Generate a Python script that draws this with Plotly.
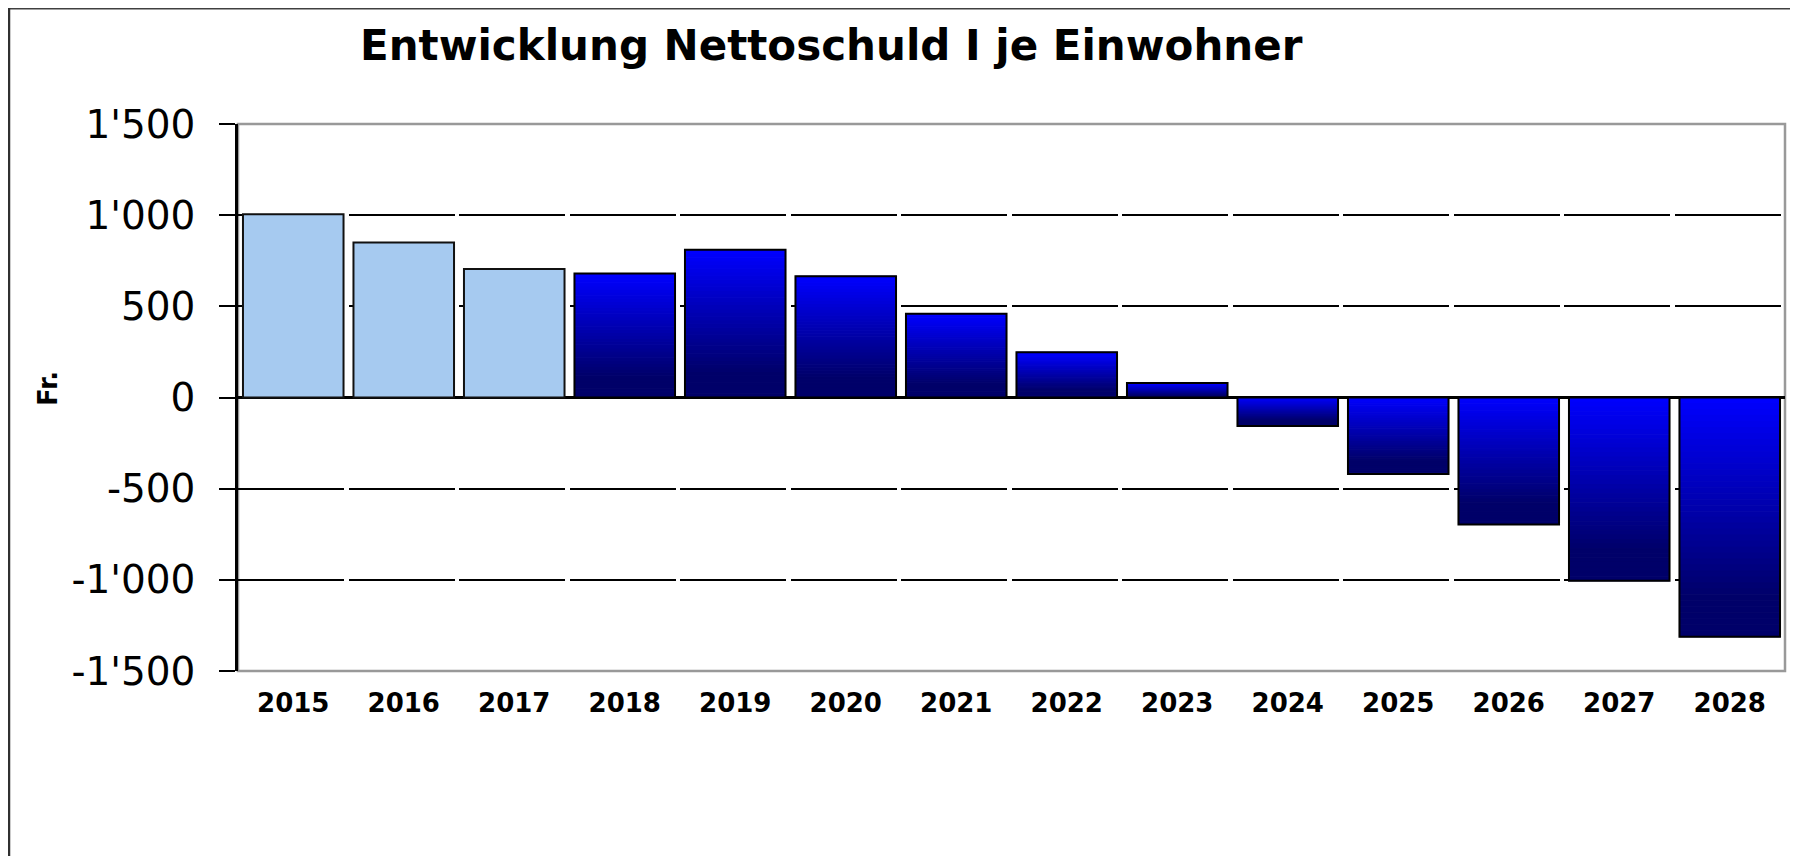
import plotly.graph_objects as go

years = ["2015", "2016", "2017", "2018", "2019", "2020", "2021",
         "2022", "2023", "2024", "2025", "2026", "2027", "2028"]
values = [1005, 850, 705, 680, 810, 665, 460, 248, 80,
          -156, -420, -696, -1005, -1312]
actual_count = 3  # first three years are actual values (light blue)
ytick_vals = [1500, 1000, 500, 0, -500, -1000, -1500]
ytick_text = ["1'500", "1'000", "500", "0", "-500", "-1'000", "-1'500"]

# page offset (browser body margin)
O = 8
W, H = 1798 - O, 856 - O
# plot area in reference (window) coordinates
PL, PR, PT, PB = 238, 1785, 124, 671
L, R, T, B = PL - O, (1798 - PR), PT - O, (856 - PB)
pw, ph = PR - PL, PB - PT

def px(x):
    return (x - PL) / pw

def py(y):
    return (PB - y) / ph

xs = list(range(len(years)))
bw = 0.91
fig = go.Figure()

# actual (light blue) bars
ax = xs[:actual_count]
av = values[:actual_count]
fig.add_trace(go.Bar(x=ax, y=av, width=bw, marker=dict(color="#A6CAF0",
              line=dict(color="#111111", width=2)), showlegend=False))

# planned bars with vertical gradient, built of stacked slices
px_ = xs[actual_count:]
pv = values[actual_count:]
N = 40
top_c = (0, 0, 255)
bot_c = (0, 0, 105)
for k in range(N):
    f = (k + 0.5) / N
    cols = []
    for v in pv:
        t = (1 - f) if v > 0 else f
        t = min(1.0, t * 1.2)
        c = tuple(int(round(top_c[j] + (bot_c[j] - top_c[j]) * t)) for j in range(3))
        cols.append("rgb(%d,%d,%d)" % c)
    fig.add_trace(go.Bar(x=px_, y=[v / N for v in pv], base=[v * k / N for v in pv],
                         width=bw, marker=dict(color=cols, line=dict(color=cols, width=1)),
                         hoverinfo="skip", showlegend=False))
# outline
fig.add_trace(go.Bar(x=px_, y=pv, width=bw, marker=dict(color="rgba(0,0,0,0)",
              line=dict(color="#000000", width=2)), showlegend=False))

fig.update_layout(
    width=W, height=H, barmode="overlay",
    margin=dict(l=L, r=R, t=T, b=B),
    paper_bgcolor="white", plot_bgcolor="white",
    showlegend=False,
    xaxis=dict(range=[-0.5, len(years) - 0.5], tickvals=xs, ticktext=years,
               showgrid=False, zeroline=False, showline=False, ticks="",
               ticklabelstandoff=14,
               tickfont=dict(family="DejaVu Sans", size=26, color="#000000", weight="bold")),
    yaxis=dict(range=[-1500, 1500], tickvals=ytick_vals, ticktext=ytick_text,
               showgrid=True, gridcolor="#000000", gridwidth=2, griddash="106px,4.5px",
               zeroline=True, zerolinecolor="#000000", zerolinewidth=3,
               showline=True, linecolor="#000000", linewidth=2.5,
               ticks="outside", ticklen=16, tickwidth=2, tickcolor="#000000",
               ticklabelstandoff=16,
               tickfont=dict(family="DejaVu Sans", size=39, color="#000000")),
    shapes=[
        dict(type="rect", xref="paper", yref="paper", x0=0, x1=1, y0=0, y1=1,
             line=dict(color="#999999", width=2.5), layer="below"),
        dict(type="line", xref="paper", yref="paper", x0=px(8), x1=px(1797), y0=py(8), y1=py(8),
             line=dict(color="#404040", width=3)),
        dict(type="line", xref="paper", yref="paper", x0=px(9), x1=px(9), y0=py(8), y1=py(870),
             line=dict(color="#303030", width=2.5)),
        dict(type="line", xref="paper", yref="paper", x0=px(1796), x1=px(1796), y0=py(8), y1=py(870),
             line=dict(color="#aaaaaa", width=2)),
    ],
    annotations=[
        dict(text="Entwicklung Nettoschuld I je Einwohner", xref="paper", yref="paper",
             x=px(831), y=py(46), xanchor="center", yanchor="middle", showarrow=False,
             font=dict(family="DejaVu Sans", size=42, color="#000000", weight="bold")),
        dict(text="Fr.", xref="paper", yref="paper", x=px(48), y=py(389),
             xanchor="center", yanchor="middle", showarrow=False, textangle=-90,
             font=dict(family="DejaVu Sans", size=26, color="#000000", weight="bold")),
    ],
)

fig.write_html("out.html")
